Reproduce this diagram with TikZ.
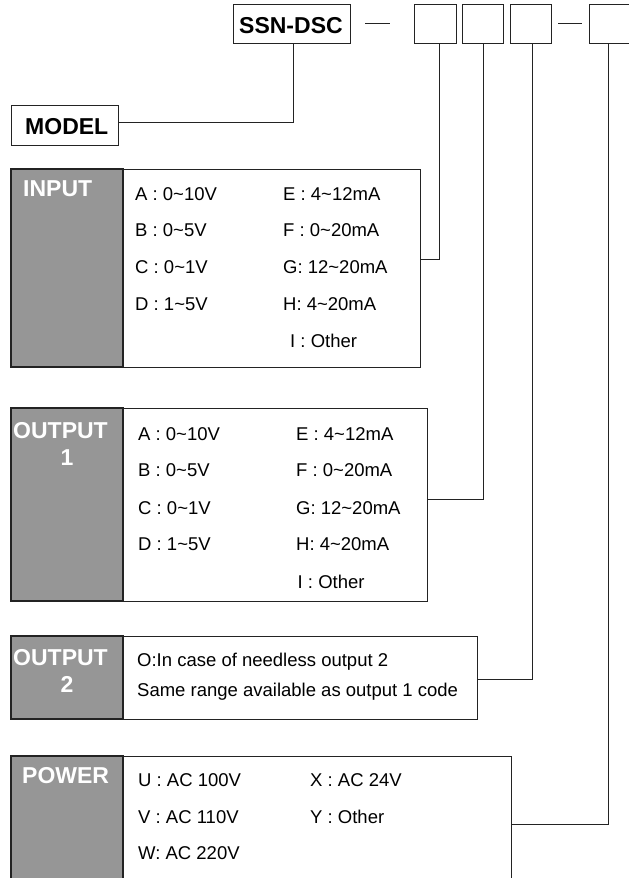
\documentclass[tikz,border=0pt]{standalone}
\usepackage{fontspec}
\setmainfont{Liberation Sans}
\definecolor{hdrgray}{RGB}{150,150,150}
\definecolor{linec}{RGB}{35,35,35}
\newcommand{\tl}{\textasciitilde}
\tikzset{
  box/.style={draw=linec, line width=1.3pt, fill=white, inner sep=0pt, anchor=north west},
  codebox/.style={draw=linec, line width=1.1pt, inner sep=0pt, anchor=north west},
  item/.style={inner sep=0pt, anchor=base west, font=\fontsize{18.5}{22}\selectfont, text=black},
  hdr/.style={inner sep=0pt, anchor=base west, font=\fontsize{23}{27}\selectfont\bfseries, text=white},
  hdrc/.style={inner sep=0pt, anchor=base, font=\fontsize{23}{27}\selectfont\bfseries, text=white},
  ttl/.style={inner sep=0pt, anchor=base west, font=\fontsize{23}{27}\selectfont\bfseries, text=black},
  conn/.style={draw=linec, line width=1pt},
  graycol/.style={draw=linec, line width=1.3pt, fill=hdrgray},
}
\begin{document}
\begin{tikzpicture}[x=1pt, y=-1pt]
\useasboundingbox (0,0) rectangle (629,878);
\clip (0,0) rectangle (629,878);
\fill[white] (0,0) rectangle (629,878);

% ---- code line at top ----
\node[codebox, minimum width=117pt, minimum height=39pt] (ssn) at (233,4) {};
\node[ttl] (ssnt) at (239,33.3) {SSN-DSC};
\node[codebox, minimum width=42pt, minimum height=39pt] (b1) at (414,4) {};
\node[codebox, minimum width=41pt, minimum height=39pt] (b2) at (462,4) {};
\node[codebox, minimum width=41pt, minimum height=39pt] (b3) at (510,4) {};
\node[codebox, minimum width=39.5pt, minimum height=39pt] (b4) at (589,4) {};
\coordinate (d1a) at (365,23); \coordinate (d1b) at (390,23);
\coordinate (d2a) at (558,23); \coordinate (d2b) at (582,23);
\draw[conn] (d1a) -- (d1b);
\draw[conn] (d2a) -- (d2b);

% ---- MODEL ----
\node[box, minimum width=107pt, minimum height=40pt] (model) at (11,105) {};
\node[ttl] (modelt) at (25,134.3) {MODEL};

% ---- INPUT ----
\node[box, minimum width=409pt, minimum height=198pt] (inp) at (11,169) {};
\path[graycol] (inp.north west) rectangle (123,367);
\node[hdr] (inph) at (23,196.7) {INPUT};
\foreach \t/\y in {{A : 0\tl10V}/200, {B : 0\tl5V}/236.7, {C : 0\tl1V}/273.3, {D : 1\tl5V}/310.5}
  \node[item] at (135,\y) {\t};
\foreach \t/\y in {{E : 4\tl12mA}/200, {F : 0\tl20mA}/236.7, {G: 12\tl20mA}/273.3, {H: 4\tl20mA}/310.5}
  \node[item] at (283,\y) {\t};
\node[item] at (290,347.2) {I : Other};

% ---- OUTPUT 1 ----
\node[box, minimum width=416pt, minimum height=193pt] (out1) at (11,408) {};
\path[graycol] (out1.north west) rectangle (123,601);
\node[hdr] (o1h) at (13,438) {OUTPUT};
\node[hdrc] (o1n) at (67,465) {1};
\foreach \t/\y in {{A : 0\tl10V}/440, {B : 0\tl5V}/476.7, {C : 0\tl1V}/514, {D : 1\tl5V}/550.7}
  \node[item] at (138,\y) {\t};
\foreach \t/\y in {{E : 4\tl12mA}/440, {F : 0\tl20mA}/476.7, {G: 12\tl20mA}/514, {H: 4\tl20mA}/550.7}
  \node[item] at (296,\y) {\t};
\node[item] at (297.5,588.3) {I : Other};

% ---- OUTPUT 2 ----
\node[box, minimum width=466pt, minimum height=83pt] (out2) at (11,636) {};
\path[graycol] (out2.north west) rectangle (123,719);
\node[hdr] (o2h) at (13,665) {OUTPUT};
\node[hdrc] (o2n) at (67,692.7) {2};
\node[item] at (137,666.7) {O:In case of needless output 2};
\node[item] at (137,696.7) {Same range available as output 1 code};

% ---- POWER ----
\node[box, minimum width=500pt, minimum height=134pt] (pow) at (11,756) {};
\path[graycol] (pow.north west) rectangle (123,890);
\node[hdr] (powh) at (22,783.3) {POWER};
\node[item] at (138,786.7) {U : AC 100V};
\node[item] at (138,823.3) {V : AC 110V};
\node[item] at (138,859) {W: AC 220V};
\node[item] at (310,786.7) {X : AC 24V};
\node[item] at (310,823.3) {Y : Other};

% ---- connectors ----
\coordinate (k0) at (293,122);
\coordinate (k1) at (439,259);
\coordinate (k2) at (483,499);
\coordinate (k3) at (532,679);
\coordinate (k4) at (608,824);
\draw[conn] (ssn.south -| k0) -- (k0) -- (model.east |- k0);
\draw[conn] (b1.south -| k1) -- (k1) -- (inp.east |- k1);
\draw[conn] (b2.south -| k2) -- (k2) -- (out1.east |- k2);
\draw[conn] (b3.south -| k3) -- (k3) -- (out2.east |- k3);
\draw[conn] (b4.south -| k4) -- (k4) -- (pow.east |- k4);
\end{tikzpicture}
\end{document}
